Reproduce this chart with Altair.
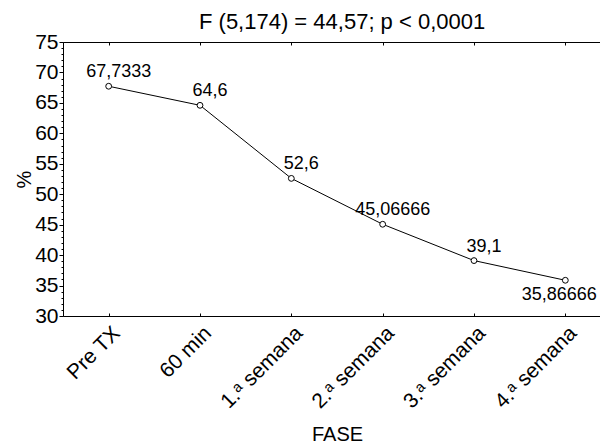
import altair as alt
import pandas as pd

# ---- data ----
fases = ["Pre TX", "60 min", "1.ᵃ semana", "2.ᵃ semana", "3.ᵃ semana", "4.ᵃ semana"]
valores = [67.7333, 64.6, 52.6, 45.06666, 39.1, 35.86666]
etiquetas = ["67,7333", "64,6", "52,6", "45,06666", "39,1", "35,86666"]
titulo = "F (5,174) = 44,57; p < 0,0001"
y_mayores = list(range(30, 80, 5))
y_menores = list(range(30, 76))

df = pd.DataFrame({"fase": fases, "valor": valores, "etiqueta": etiquetas,
                   "orden": list(range(len(fases)))})

FONT = "Liberation Sans"

xscale = alt.Scale(type="point", domain=fases, range=[0, 548], padding=0.5)
yscale = alt.Scale(domain=[30, 75], nice=False, zero=False)

x_main = alt.X("fase:N", scale=xscale,
               axis=alt.Axis(orient="bottom", title="FASE", labelAngle=-45,
                             labelFontSize=21, titleFontSize=20, ticks=False,
                             domain=True, labelPadding=6, titlePadding=13))
y_main = alt.Y("valor:Q", scale=yscale,
               axis=alt.Axis(orient="left", title="%", values=y_mayores,
                             labelFontSize=21, titleFontSize=20, tickSize=4,
                             labelPadding=1, titlePadding=0, domain=True))

base = alt.Chart(df)

linea = base.mark_line(color="black", strokeWidth=1).encode(x=x_main, y=y_main)
puntos = base.mark_point(shape="circle", filled=True, fill="white", stroke="black",
                         strokeWidth=1, size=34, opacity=1).encode(x=x_main, y=y_main)
txt_arriba = base.transform_filter("datum.orden < 5").mark_text(
    font=FONT, fontSize=18, dx=10, dy=-9, baseline="alphabetic", align="center",
    color="black").encode(x=x_main, y=y_main, text="etiqueta:N")
txt_abajo = base.transform_filter("datum.orden == 5").mark_text(
    font=FONT, fontSize=18, dx=-6, dy=20, baseline="alphabetic", align="center",
    color="black").encode(x=x_main, y=y_main, text="etiqueta:N")

principal = alt.layer(linea, puntos, txt_arriba, txt_abajo)

y_none = alt.Y("valor:Q", scale=yscale, axis=None)
x_none = alt.X("fase:N", scale=xscale, axis=None)

ticks_abajo = base.mark_point(opacity=0).encode(
    x=alt.X("fase:N", scale=xscale,
            axis=alt.Axis(orient="bottom", offset=-3, tickSize=3, labels=False,
                          domain=False, title=None)),
    y=y_none)
dominio_arriba = base.mark_point(opacity=0).encode(
    x=alt.X("fase:N", scale=xscale,
            axis=alt.Axis(orient="top", ticks=False, labels=False,
                          domain=True, title=None)),
    y=y_none)
ticks_arriba = base.mark_point(opacity=0).encode(
    x=alt.X("fase:N", scale=xscale,
            axis=alt.Axis(orient="top", offset=-3, tickSize=3, labels=False,
                          domain=False, title=None)),
    y=y_none)
ticks_menores = base.mark_point(opacity=0).encode(
    x=x_none,
    y=alt.Y("valor:Q", scale=yscale,
            axis=alt.Axis(orient="left", values=y_menores, tickSize=2,
                          labels=False, domain=False, title=None)))

chart = alt.layer(
    principal, ticks_abajo, dominio_arriba, ticks_arriba, ticks_menores
).resolve_scale(x="independent", y="independent").properties(
    width=537, height=274,
    title=alt.TitleParams(text=titulo, fontSize=22, font=FONT, fontWeight="normal",
                          color="black", anchor="start", frame="group", offset=2,
                          dx=136, dy=5),
    autosize=alt.AutoSizeParams(type="none"),
    padding={"left": 55, "top": 34, "right": 0, "bottom": 128},
).configure_view(stroke=None).configure_axis(
    domainColor="black", tickColor="black", labelColor="black", titleColor="black",
    labelFont=FONT, titleFont=FONT, titleFontWeight="normal", grid=False,
    domainWidth=1, tickWidth=1)

chart.save("out.html", embed_options={"renderer": "svg", "actions": False})
